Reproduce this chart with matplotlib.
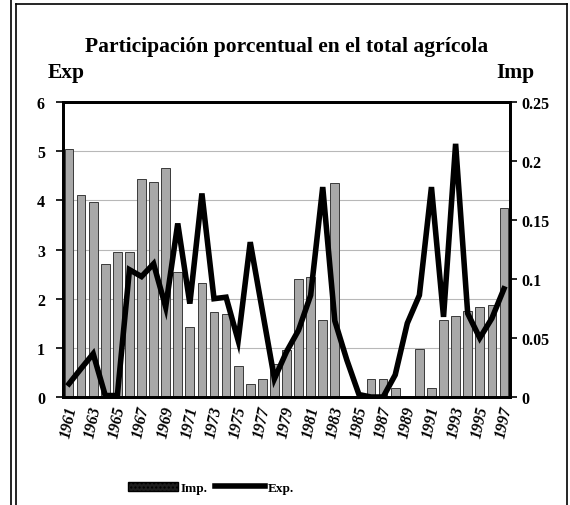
import numpy as np
import matplotlib
matplotlib.use("Agg")
import matplotlib.pyplot as plt
from matplotlib.lines import Line2D
from matplotlib.patches import Patch

# years 1961-1997
years = list(range(1961, 1998))

# Exp. - participacion (eje izquierdo)
exp_vals = [0.27, 0.58, 0.88, 0.03, 0.03, 2.59, 2.45, 2.71, 1.83, 3.53,
            1.90, 4.14, 2.00, 2.03, 1.15, 3.15, 1.76, 0.37, 0.92, 1.36,
            2.07, 4.27, 1.55, 0.75, 0.05, 0.00, 0.00, 0.45, 1.50, 2.07,
            4.27, 1.63, 5.15, 1.70, 1.20, 1.60, 2.20]

# Imp. - participacion (eje derecho)
imp_vals = [0.210, 0.171, 0.165, 0.113, 0.123, 0.123, 0.185, 0.182, 0.194, 0.106,
            0.059, 0.097, 0.072, 0.070, 0.026, 0.011, 0.015, 0.028, 0.040, 0.100,
            0.102, 0.065, 0.181, 0.000, 0.000, 0.015, 0.015, 0.008, 0.000, 0.041,
            0.008, 0.065, 0.069, 0.073, 0.076, 0.078, 0.160]

left_ticks = [0, 1, 2, 3, 4, 5, 6]
right_ticks = [0, 0.05, 0.1, 0.15, 0.2, 0.25]
right_labels = ['0', '0.05', '0.1', '0.15', '0.2', '0.25']

serif = 'Liberation Serif'
plt.rcParams['font.family'] = serif

fig = plt.figure(figsize=(5.7, 5.06), dpi=100)
ax = fig.add_axes([0.1105, 0.2134, 0.7842, 0.583])
ax2 = ax.twinx()

x = np.arange(len(years))

ax2.bar(x, imp_vals, width=0.72, color='#a8a8a8', edgecolor='#3a3a3a', linewidth=0.7, zorder=2)
ax2.set_ylim(0, 0.25)
ax2.set_yticks(right_ticks)
ax2.set_yticklabels(right_labels, fontsize=11.5, fontweight='bold')

ax.set_zorder(ax2.get_zorder() + 1)
ax.patch.set_visible(False)
ax.plot(x, exp_vals, color='black', linewidth=4, solid_joinstyle='miter', zorder=5)
ax.set_ylim(0, 6)
ax.set_xlim(-0.5, len(years) - 0.5)
ax.set_yticks(left_ticks)
ax.set_yticklabels([str(t) for t in left_ticks], fontsize=11.5, fontweight='bold')

# gridlines drawn on the bar axis so they sit behind the bars
for t in left_ticks[1:-1]:
    ax2.axhline(t * 0.25 / 6, color='#b8b8b8', linewidth=0.8, zorder=1)

ax.set_xticks(x[::2])
ax.set_xticklabels([str(y) for y in years[::2]], rotation=78, fontsize=11.5,
                   fontweight='bold', fontstyle='italic')
ax.tick_params(axis='x', length=0, pad=5)
ax.tick_params(axis='y', length=5, width=1.2, pad=8)
ax2.tick_params(axis='y', length=5, width=1.2, pad=3)

for a in (ax, ax2):
    for s in a.spines.values():
        s.set_linewidth(2)
        s.set_color('black')

fig.text(0.503, 0.907, 'Participación porcentual en el total agrícola',
         ha='center', va='center', fontsize=15.5, fontweight='bold')
fig.text(0.084, 0.855, 'Exp', ha='left', va='center', fontsize=15.5, fontweight='bold')
fig.text(0.937, 0.855, 'Imp', ha='right', va='center', fontsize=15.5, fontweight='bold')

handles = [Patch(facecolor='#1e1e1e', edgecolor='black', hatch='....'),
           Line2D([0], [0], color='black', linewidth=4)]
fig.legend(handles, ['Imp.', 'Exp.'], loc='center', bbox_to_anchor=(0.37, 0.034),
           ncol=2, frameon=False, handlelength=3.8, handletextpad=0.2,
           columnspacing=0.6, prop={'family': serif, 'weight': 'bold', 'size': 9.5})

# page frame
fig.add_artist(Line2D([11 / 570, 11 / 570], [0, 1], color='black', linewidth=1.2))
fig.add_artist(Line2D([16 / 570, 16 / 570], [0, 1 - 5 / 506], color='black', linewidth=1.2))
fig.add_artist(Line2D([16 / 570, 567 / 570], [1 - 5 / 506, 1 - 5 / 506], color='black', linewidth=1.2))
fig.add_artist(Line2D([567 / 570, 567 / 570], [0, 1 - 5 / 506], color='black', linewidth=1.2))

fig.savefig('out.png', dpi=100)
